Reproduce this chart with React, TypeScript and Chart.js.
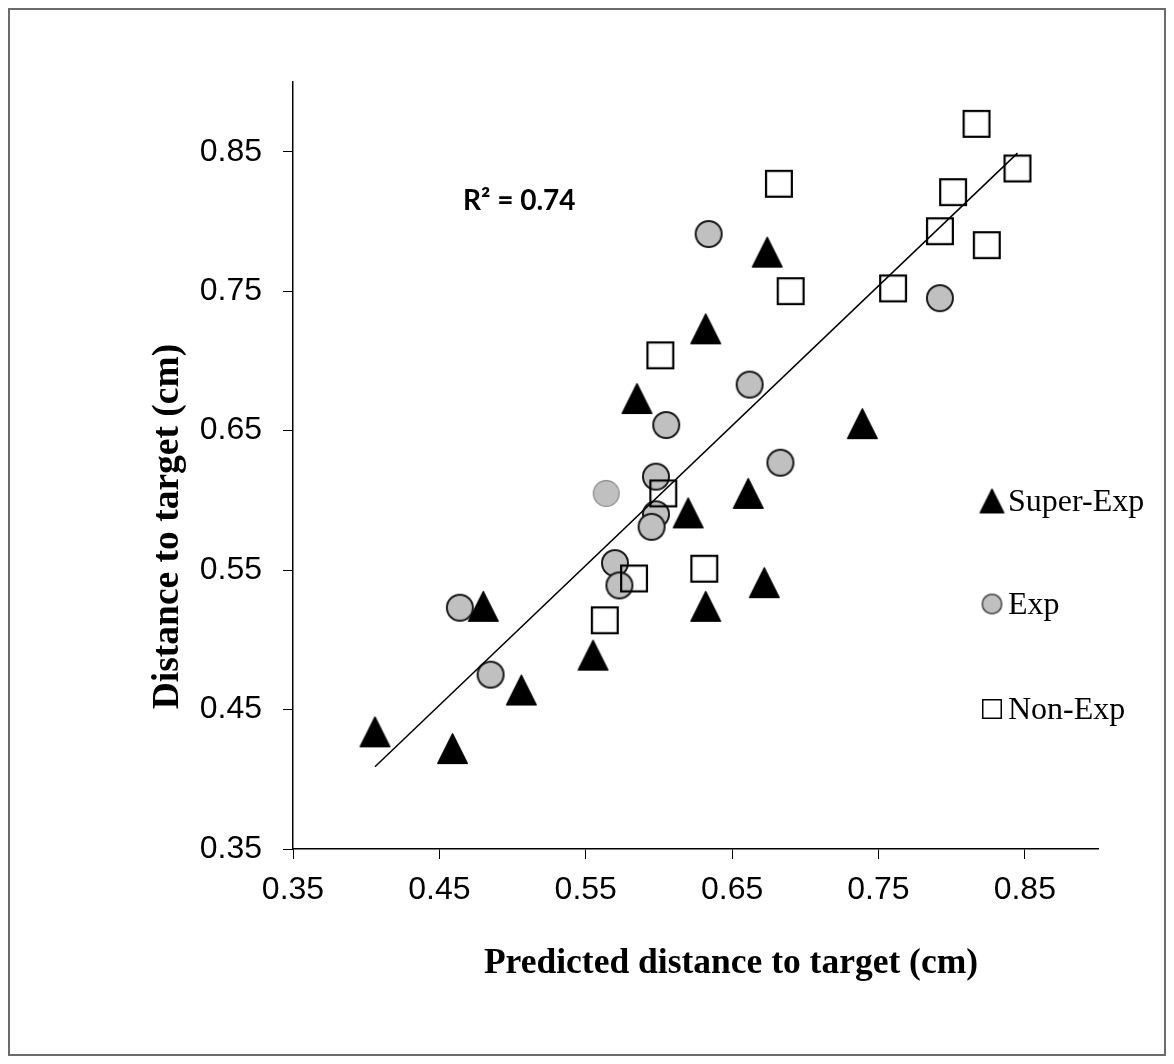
import React, { useEffect, useRef } from 'react';
import { Chart, registerables } from 'chart.js';

Chart.register(...registerables);

// ---------- data ----------
const tickValues = [0.35, 0.45, 0.55, 0.65, 0.75, 0.85];
const tickLabels = ['0.35', '0.45', '0.55', '0.65', '0.75', '0.85'];
const axisMin = 0.35;
const axisMax = 0.9;

const superExpX = [0.406, 0.459, 0.480, 0.506, 0.555, 0.585, 0.620, 0.632, 0.632, 0.661, 0.674, 0.672, 0.739];
const superExpY = [0.434, 0.422, 0.524, 0.464, 0.489, 0.673, 0.591, 0.723, 0.524, 0.605, 0.778, 0.541, 0.655];

const expX = [0.464, 0.485, 0.564, 0.598, 0.598, 0.595, 0.570, 0.573, 0.634, 0.792, 0.662, 0.605, 0.683];
const expY = [0.523, 0.475, 0.605, 0.617, 0.590, 0.581, 0.555, 0.539, 0.791, 0.745, 0.683, 0.654, 0.627];

const nonExpX = [0.603, 0.583, 0.631, 0.563, 0.817, 0.845, 0.801, 0.792, 0.824, 0.760, 0.682, 0.690, 0.601];
const nonExpY = [0.605, 0.544, 0.551, 0.514, 0.870, 0.838, 0.821, 0.793, 0.783, 0.752, 0.827, 0.750, 0.704];

const trendX = [0.406, 0.845];
const trendY = [0.409, 0.849];

const legendLabels = ['Super-Exp', 'Exp', 'Non-Exp'];
const xTitle = 'Predicted distance to target (cm)';
const yTitle = 'Distance to target (cm)';
const rSquaredLabel = 'R\u00B2 = 0.74';

const toPoints = (xs: number[], ys: number[]) => xs.map((x, i) => ({ x, y: ys[i] }));

// ---------- marker images ----------
function makeCanvas(size: number) {
  const c = document.createElement('canvas');
  c.width = size;
  c.height = size;
  return c;
}

function triangleMarker(outer: number) {
  const lw = 1.5;
  const size = Math.ceil(outer) + 2;
  const c = makeCanvas(size);
  const g = c.getContext('2d')!;
  const pad = (size - outer) / 2 + lw / 2;
  const w = outer - lw;
  g.beginPath();
  g.moveTo(size / 2, pad);
  g.lineTo(pad + w, pad + w);
  g.lineTo(pad, pad + w);
  g.closePath();
  g.fillStyle = '#000';
  g.fill();
  g.lineJoin = 'round';
  g.lineWidth = lw;
  g.strokeStyle = '#000';
  g.stroke();
  return c;
}

function circleMarker(outer: number, lw: number, stroke: string) {
  const size = Math.ceil(outer) + 2;
  const c = makeCanvas(size);
  const g = c.getContext('2d')!;
  g.beginPath();
  g.arc(size / 2, size / 2, outer / 2 - lw / 2, 0, Math.PI * 2);
  g.fillStyle = '#c0c0c0';
  g.fill();
  g.lineWidth = lw;
  g.strokeStyle = stroke;
  g.stroke();
  return c;
}

function squareMarker(outer: number, lw: number) {
  const size = Math.ceil(outer) + 2;
  const c = makeCanvas(size);
  const g = c.getContext('2d')!;
  const pad = (size - outer) / 2 + lw / 2;
  g.lineWidth = lw;
  g.strokeStyle = '#000';
  g.strokeRect(pad, pad, outer - lw, outer - lw);
  return c;
}

export default function App() {
  const canvasRef = useRef<HTMLCanvasElement | null>(null);

  useEffect(() => {
    if (!canvasRef.current) return;

    const tri = triangleMarker(31);
    const circ = circleMarker(28, 2, '#1a1a1a');
    const circFaint = circleMarker(27, 1.2, '#8a8a8a');
    const sq = squareMarker(28, 2.2);

    const legTri = triangleMarker(25);
    const legCirc = circleMarker(21, 1.5, '#444');
    const legSq = squareMarker(20, 1.5);
    const legendIcons = [legTri, legCirc, legSq];

    const overlay = {
      id: 'overlay',
      afterDraw(chart: any) {
        const ctx = chart.ctx as CanvasRenderingContext2D;
        ctx.save();
        ctx.fillStyle = '#000';
        ctx.textBaseline = 'alphabetic';

        // R² label
        ctx.textAlign = 'left';
        ctx.font = 'bold 28px Lato';
        ctx.fillText(rSquaredLabel, 453, 200);

        // x title
        ctx.textAlign = 'center';
        ctx.font = 'bold 35.5px "Liberation Serif"';
        ctx.fillText(xTitle, 721, 963);

        // legend
        const iconX = 982;
        const textX = 998;
        const baselines = [501, 604, 709];
        ctx.textAlign = 'left';
        ctx.font = '32px "Liberation Serif"';
        legendLabels.forEach((label, i) => {
          const icon = legendIcons[i];
          const cy = baselines[i] - 10;
          ctx.drawImage(icon, iconX - icon.width / 2, cy - icon.height / 2);
          ctx.fillText(label, textX, baselines[i]);
        });

        // y title
        ctx.translate(168, 516.5);
        ctx.rotate(-Math.PI / 2);
        ctx.textAlign = 'center';
        ctx.font = 'bold 37.5px "Liberation Serif"';
        ctx.fillText(yTitle, 0, 0);
        ctx.restore();
      },
    };

    const tickFont = { family: '"Liberation Sans", Arial, sans-serif', size: 32 };

    const chart = new Chart(canvasRef.current, {
      type: 'scatter',
      data: {
        datasets: [
          {
            label: 'trend',
            data: toPoints(trendX, trendY),
            showLine: true,
            borderColor: '#000',
            borderWidth: 1.5,
            pointRadius: 0,
            order: 0,
          },
          {
            label: legendLabels[0],
            data: toPoints(superExpX, superExpY),
            pointStyle: tri,
            order: 1,
          },
          {
            label: legendLabels[1],
            data: toPoints(expX, expY),
            pointStyle: (c: any) => (c.dataIndex === 2 ? circFaint : circ),
            order: 3,
          },
          {
            label: legendLabels[2],
            data: toPoints(nonExpX, nonExpY),
            pointStyle: sq,
            order: 2,
          },
        ],
      },
      options: {
        responsive: false,
        maintainAspectRatio: false,
        devicePixelRatio: 1,
        animation: false,
        events: [],
        layout: { padding: { left: 0, right: 66, top: 72, bottom: 0 } },
        plugins: {
          legend: { display: false },
          tooltip: { enabled: false },
        },
        scales: {
          x: {
            type: 'linear',
            min: axisMin,
            max: axisMax,
            afterBuildTicks: (s: any) => {
              s.ticks = tickValues.map((value) => ({ value }));
            },
            afterFit: (s: any) => {
              s.height = 205;
            },
            ticks: {
              callback: (_v: any, i: number) => tickLabels[i],
              font: tickFont,
              color: '#000',
              padding: 12,
              maxRotation: 0,
              autoSkip: false,
            },
            grid: { drawOnChartArea: false, drawTicks: true, tickLength: 10, color: '#000', lineWidth: 1 },
            border: { display: true, color: '#000', width: 1.5 },
          },
          y: {
            type: 'linear',
            min: axisMin,
            max: axisMax,
            afterBuildTicks: (s: any) => {
              s.ticks = tickValues.map((value) => ({ value }));
            },
            afterFit: (s: any) => {
              s.width = 283;
            },
            ticks: {
              callback: (_v: any, i: number) => tickLabels[i],
              font: tickFont,
              color: '#000',
              padding: 21,
              autoSkip: false,
            },
            grid: { drawOnChartArea: false, drawTicks: true, tickLength: 10, color: '#000', lineWidth: 1 },
            border: { display: true, color: '#000', width: 1.5 },
          },
        },
      },
      plugins: [overlay],
    } as any);

    return () => chart.destroy();
  }, []);

  return (
    <div
      style={{
        width: 1158,
        height: 1048,
        boxSizing: 'border-box',
        border: '2px solid #6b6b6b',
        background: '#fff',
      }}
    >
      <canvas ref={canvasRef} width={1154} height={1044} style={{ display: 'block' }} />
    </div>
  );
}
